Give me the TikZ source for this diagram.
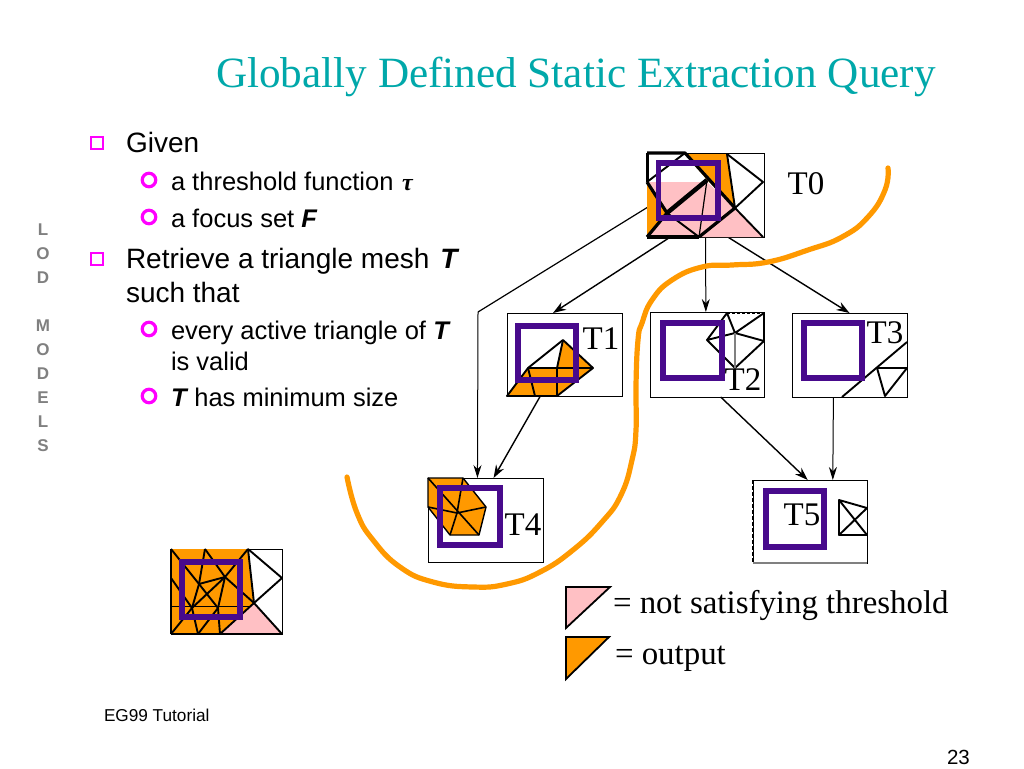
\documentclass[tikz,border=0pt]{standalone}
\usepackage{fontspec}
\setmainfont{Liberation Sans}
\newfontfamily\timesf{Liberation Serif}
\usetikzlibrary{arrows.meta,calc}
\definecolor{orng}{RGB}{255,153,0}
\definecolor{pnk}{RGB}{255,192,196}
\definecolor{purp}{RGB}{72,10,140}
\definecolor{teal2}{RGB}{0,168,170}
\definecolor{mag}{RGB}{255,0,255}
\definecolor{gry}{RGB}{128,128,128}
\newcommand{\fs}[1]{\fontsize{#1}{#1}\selectfont}
\tikzset{
 x=1pt,y=-1pt,
 frame/.style={draw=black,line width=0.9pt,fill=none,inner sep=0pt,outer sep=0pt,rectangle},
 focus/.style={draw=purp,line width=5.6pt},
 mesh/.style={draw=black,line width=1.9pt,line join=round},
 thickmesh/.style={draw=black,line width=3.2pt,line join=round},
 fillo/.style={fill=orng},
 fillp/.style={fill=pnk},
 link/.style={draw=black,line width=1.4pt,-{Stealth[length=13pt,width=9pt]}},
 thinlink/.style={draw=black,line width=1pt,-{Stealth[length=13pt,width=8pt]}},
 plain/.style={draw=black,line width=1.2pt},
 txt/.style={inner sep=0pt,outer sep=0pt,anchor=base west,text=black},
 lod/.style={inner sep=0pt,anchor=center,text=gry,font=\fs{17}\bfseries},
 lab/.style={inner sep=0pt,anchor=center,font=\timesf\fs{33}},
 bulsq/.style={draw=mag,line width=1.6pt,minimum size=12.4pt,inner sep=0pt,rectangle},
 bulci/.style={draw=mag,line width=3.2pt,minimum size=13.5pt,inner sep=0pt,circle},
}
\newcommand{\boxat}[5]{\node[frame,minimum width=#4pt,minimum height=#5pt] (#1) at (#2+#4/2,#3+#5/2) {};}
\begin{document}
\begin{tikzpicture}
\useasboundingbox (0,0) rectangle (1024,768);
\fill[white] (0,0) rectangle (1024,768);
% title
\node[txt,text=teal2,font=\timesf\fs{43.2}] (title) at (216,87) {Globally Defined Static Extraction Query};
% left vertical
\foreach \n/\c/\yy in {a/L/230,b/O/254,c/D/278,d/M/326,e/O/350,f/D/374,g/E/398,h/L/422,i/S/446}
  \node[lod] (v\n) at (43,\yy) {\c};
% bullets
\node[bulsq] (b1) at (97,143) {};
\node[bulsq] (b2) at (97,259) {};
\node[bulci] (c1) at (149,180) {};
\node[bulci] (c2) at (149,217) {};
\node[bulci] (c3) at (149,329) {};
\node[bulci] (c4) at (149,396) {};
\node[txt,font=\fs{28}] (t1) at (126,152) {Given};
\node[txt,font=\fs{25.5}] (t2) at (171,190) {a threshold function};
\node[txt,font=\timesf\fs{24}\bfseries\itshape] (tau) at (402,190) {τ};
\node[txt,font=\fs{25.5}] (t3) at (171,227) {a focus set \textbf{\textit{F}}};
\node[txt,font=\fs{28}] (t4) at (126,268) {Retrieve a triangle mesh\kern3pt{} \textbf{\textit{T}}};
\node[txt,font=\fs{28}] (t5) at (126,302) {such that};
\node[txt,font=\fs{25.5}] (t6) at (171,339) {every active triangle of \textbf{\textit{T}}};
\node[txt,font=\fs{25.5}] (t7) at (171,370) {is valid};
\node[txt,font=\fs{25.5}] (t8) at (171,406) {\textbf{\textit{T}}\kern6pt has minimum size};
\node[txt,font=\fs{17.2}] (t9) at (104,721) {EG99 Tutorial};
\node[txt,font=\fs{20.5}] (t10) at (947,764) {23};
% frames
\boxat{f0}{647}{153}{117}{84}
\boxat{f1}{507}{313}{115}{83}
\boxat{f2}{650}{312}{114}{85}
\boxat{f3}{792}{313}{115}{84}
\boxat{f4}{428}{478}{115}{84}
\boxat{f5}{753}{480}{114}{83}
\boxat{f6}{171}{549}{111}{85}
\draw[line width=2pt,dash pattern=on 4pt off 2pt] (f5.north west) -- (f5.south west);
\draw[draw=gry,line width=1.6pt] (f5.south west) -- (f5.south east);
% connectors
\coordinate (elbow) at (478,312);
\draw[plain] ($(f0.north west)!0.65!(f0.south west)$) -- (elbow);
\draw[thinlink] (elbow) -- ($(f4.north west)!0.43!(f4.north east)$);
\draw[link] ($(f0.south west)!0.2!(f0.south east)$) -- ($(f1.north west)!0.40!(f1.north east)$);
\draw[thinlink] ($(f0.south west)!0.5!(f0.south east)$) -- ($(f2.north west)!0.49!(f2.north east)$);
\draw[link] ($(f0.south west)!0.69!(f0.south east)$) -- ($(f3.north west)!0.50!(f3.north east)$);
\draw[link] ($(f1.south west)!0.29!(f1.south east)$) -- ($(f4.north west)!0.57!(f4.north east)$);
\draw[link] ($(f2.south west)!0.62!(f2.south east)$) -- ($(f5.north west)!0.48!(f5.north east)$);
\draw[thinlink] ($(f3.south west)!0.36!(f3.south east)$) -- ($(f5.north west)!0.70!(f5.north east)$);
% T0 mesh
\fill[fillp] (647,182) -- (707,182) -- (735,208) -- (763,237) -- (647,237) -- cycle;
\fill[fillo] (647,182) -- (667,213) -- (647,237) -- cycle;
\fill[fillo] (685,154) -- (727,154) -- (735,208) -- (707,180) -- cycle;
\draw[thickmesh] (647,153) -- (685,153) -- (735,208) -- (699,237);
\draw[mesh] (647,182) -- (685,153);
\draw[mesh] (727,154) -- (763,182) -- (735,208) -- (763,237);
\draw[mesh] (727,154) -- (735,208);
\draw[thickmesh] (647,182) -- (667,213) -- (647,237);
\draw[line width=4.5pt] (667,213) -- (707,180);
\draw[mesh] (667,213) -- (699,237);
\draw[line width=1.2pt] (707,180) -- (699,237);
\draw[line width=3pt] (647,153) -- (647,182);
\draw[thickmesh] (647,237) -- (699,237);
% T1 mesh
\fill[fillo] (563,340) -- (593,368) -- (557,396) -- (507,396) -- (528,368) -- (557,368) -- cycle;
\draw[mesh] (528,368) -- (563,340) -- (593,368) -- (557,396) -- (507,396) -- cycle;
\draw[mesh] (528,368) -- (593,368);
\draw[mesh] (528,368) -- (535,396);
\draw[mesh] (563,340) -- (557,368);
\draw[mesh] (557,368) -- (557,396);
% T2 mesh
\draw[mesh] (707,340) -- (727,313) -- (735,333) -- (764,313) -- (764,341) -- (735,333) -- (707,340) -- (735,368) -- (764,341);
\draw[line width=1.2pt,draw=gry] (735,333) -- (735,368);
\draw[line width=2.4pt,dash pattern=on 3pt off 2pt] (727,313) -- (764,313);
% T3 mesh
\draw[mesh] (907,342) -- (842,397);
\draw[mesh] (877,368) -- (907,368) -- (885,396) -- (877,368);
% T4 mesh
\fill[fillo] (428,478) -- (463,478) -- (486,507) -- (479,535) -- (450,535) -- (428,507) -- cycle;
\draw[mesh,line width=1.4pt] (428,478) -- (463,478) -- (486,507) -- (479,535) -- (450,535) -- (428,507) -- cycle;
\draw[mesh,line width=1.6pt] (428,478) -- (479,535);
\draw[mesh,line width=1.6pt] (428,507) -- (457,513) -- (486,507);
\draw[mesh,line width=1.6pt] (463,478) -- (457,513) -- (450,535);
% T5 mesh
\draw[mesh] (839,500) -- (867,508) -- (839,535) -- (867,535) -- (839,500) -- (839,535);
% result mesh
\fill[fillo] (171,549) -- (248,549) -- (254,603) -- (220,634) -- (171,634) -- cycle;
\fill[fillp] (220,634) -- (254,603) -- (282,634) -- cycle;
\draw[line width=1pt] (171,606) -- (250,606);
\draw[mesh] (171,549) -- (199,584) -- (218,608) -- (220,634);
\draw[mesh] (205,549) -- (225,577) -- (254,603);
\draw[mesh] (205,549) -- (199,584) -- (192,608) -- (198,634);
\draw[mesh] (248,549) -- (225,577) -- (192,608) -- (171,634);
\draw[mesh] (248,549) -- (282,578) -- (254,603) -- (282,634);
\draw[mesh] (248,549) -- (254,603) -- (220,634);
\draw[mesh] (199,584) -- (225,577) -- (218,608) -- (198,634);
\draw[mesh] (171,578) -- (192,608);
\draw[mesh] (171,634) -- (282,634);
\draw[mesh,line width=1.4pt] (171,549) -- (171,634);
% focus squares
\draw[focus] (658.5,163) rectangle (718,218);
\draw[focus] (518,326) rectangle (576,380);
\draw[focus] (663,323) rectangle (722,378);
\draw[focus] (804,323) rectangle (862,378);
\draw[focus] (440,488) rectangle (500,545);
\draw[focus] (766,491) rectangle (824,547);
\draw[focus] (182,562) rectangle (240,617);
% labels
\node[lab] (l0) at (806,184) {T0};
\node[lab] (l1) at (601,339) {T1};
\node[lab] (l2) at (743,380) {T2};
\node[lab] (l3) at (885,333) {T3};
\node[lab] (l4) at (523,525) {T4};
\node[lab] (l5) at (802,515) {T5};
% curve
\draw[draw=orng,line width=5.2pt,line cap=round] plot[smooth,tension=0.8] coordinates {(888,168) (885,190) (868,217) (842,237) (808,250) (768,262) (732,265) (702,267) (672,280) (652,300) (642,323) (638,340) (636,385) (636,430) (632,460) (621,495) (602,522) (573,550) (540,572) (507,584) (473,587) (433,582) (400,567) (373,540) (357,513) (347,477)};
% legend
\filldraw[fill=pnk,draw=black,line width=1.8pt] (566,587) -- (610,587) -- (566,628) -- cycle;
\filldraw[fill=orng,draw=black,line width=1.8pt] (566,637) -- (609,637) -- (566,679) -- cycle;
\node[txt,font=\timesf\fs{32.9}] (lg1) at (613,613) {= not satisfying threshold};
\node[txt,font=\timesf\fs{32.9}] (lg2) at (615,664) {= output};
\end{tikzpicture}
\end{document}
